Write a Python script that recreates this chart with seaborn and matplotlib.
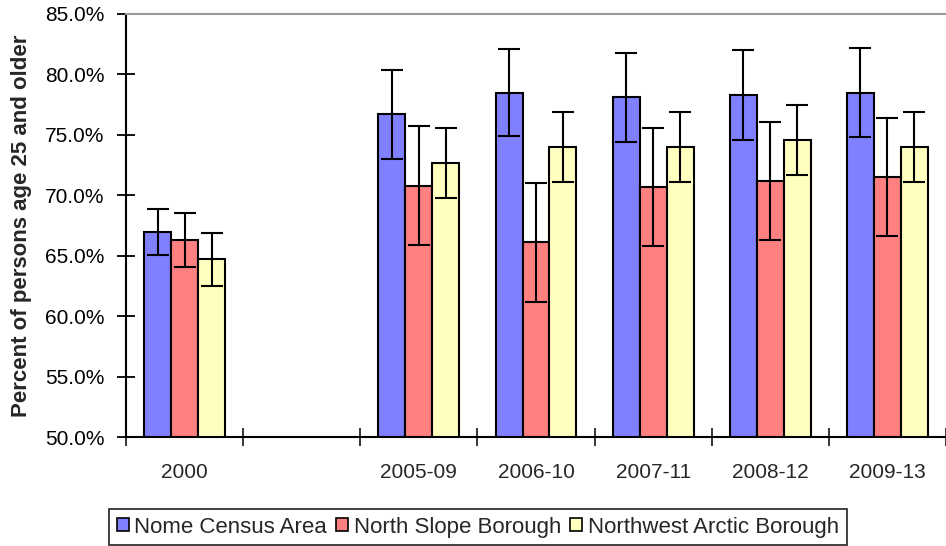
import numpy as np
import pandas as pd
import matplotlib
matplotlib.use("Agg")
import matplotlib.pyplot as plt
import seaborn as sns
from matplotlib.ticker import FuncFormatter, FixedLocator
from matplotlib.patches import Patch

# Veri
periods = ["2000", " ", "2005-09", "2006-10", "2007-11", "2008-12", "2009-13"]
areas = ["Nome Census Area", "North Slope Borough", "Northwest Arctic Borough"]
colors = ["#8080ff", "#ff8080", "#ffffc0"]

data_periods = ["2000", "2005-09", "2006-10", "2007-11", "2008-12", "2009-13"]
nome = [67.0, 76.7, 78.5, 78.1, 78.3, 78.5]
nome_moe = [1.9, 3.7, 3.6, 3.7, 3.7, 3.7]
north_slope = [66.3, 70.8, 66.1, 70.7, 71.2, 71.5]
north_slope_moe = [2.2, 4.9, 4.9, 4.9, 4.9, 4.9]
nw_arctic = [64.7, 72.7, 74.0, 74.0, 74.6, 74.0]
nw_arctic_moe = [2.2, 2.9, 2.9, 2.9, 2.9, 2.9]

values = {areas[0]: nome, areas[1]: north_slope, areas[2]: nw_arctic}
moes = {areas[0]: nome_moe, areas[1]: north_slope_moe, areas[2]: nw_arctic_moe}

rows = []
for a in areas:
    for p, v in zip(data_periods, values[a]):
        rows.append({"period": p, "area": a, "value": v})
df = pd.DataFrame(rows)

sns.set_style("white")
plt.rcParams["font.family"] = ["Liberation Sans", "DejaVu Sans"]

fig = plt.figure(figsize=(9.46, 5.46), dpi=100)
ax = fig.add_axes([0.1332, 0.1996, 0.8668, 0.7748])

sns.barplot(data=df, x="period", y="value", hue="area", order=periods,
            hue_order=areas, palette=colors, width=0.69, errorbar=None,
            edgecolor="black", linewidth=1.5, saturation=1, ax=ax, legend=False)

# hata çubukları
for cont, a in zip(ax.containers, areas):
    for bar, v, m in zip(cont, values[a], moes[a]):
        xc = bar.get_x() + bar.get_width() / 2
        ax.errorbar(xc, v, yerr=m, fmt="none", ecolor="black", elinewidth=1.5,
                    capsize=8, capthick=1.5, zorder=5)

ax.set_ylim(50, 85)
ax.set_xlim(-0.5, len(periods) - 0.5)
ax.set_yticks(np.arange(50, 85.1, 5))
ax.yaxis.set_major_formatter(FuncFormatter(lambda v, p: f"{v:.1f}%"))
ax.tick_params(axis="y", direction="inout", length=13, width=1.3, pad=9,
               labelsize=15, left=True, colors="black")
ax.tick_params(axis="x", which="major", length=0, pad=19, labelsize=15)
ax.xaxis.set_minor_locator(FixedLocator(np.arange(-0.5, len(periods), 1.0)))
ax.tick_params(axis="x", which="minor", direction="inout", length=13,
               width=1.3, bottom=True)
ax.set_xlabel("")
ax.set_ylabel("Percent of persons age 25 and older", fontsize=16,
              fontweight="bold", labelpad=9)

for s in ["left", "bottom"]:
    ax.spines[s].set_color("black")
    ax.spines[s].set_linewidth(1.5)
ax.spines["top"].set_color("#999999")
ax.spines["top"].set_linewidth(1.5)
ax.spines["right"].set_visible(False)

handles = [Patch(facecolor=c, edgecolor="black", linewidth=1.2) for c in colors]
leg = fig.legend(handles, areas, loc="upper center", ncol=3,
                 bbox_to_anchor=(0.505, 0.068), fontsize=16, frameon=True,
                 fancybox=False, handlelength=0.55, handleheight=0.55,
                 handletextpad=0.25, columnspacing=0.4, borderpad=0.35,
                 borderaxespad=0)
leg.get_frame().set_edgecolor("black")
leg.get_frame().set_linewidth(1.3)

fig.savefig("out.png", dpi=100)
